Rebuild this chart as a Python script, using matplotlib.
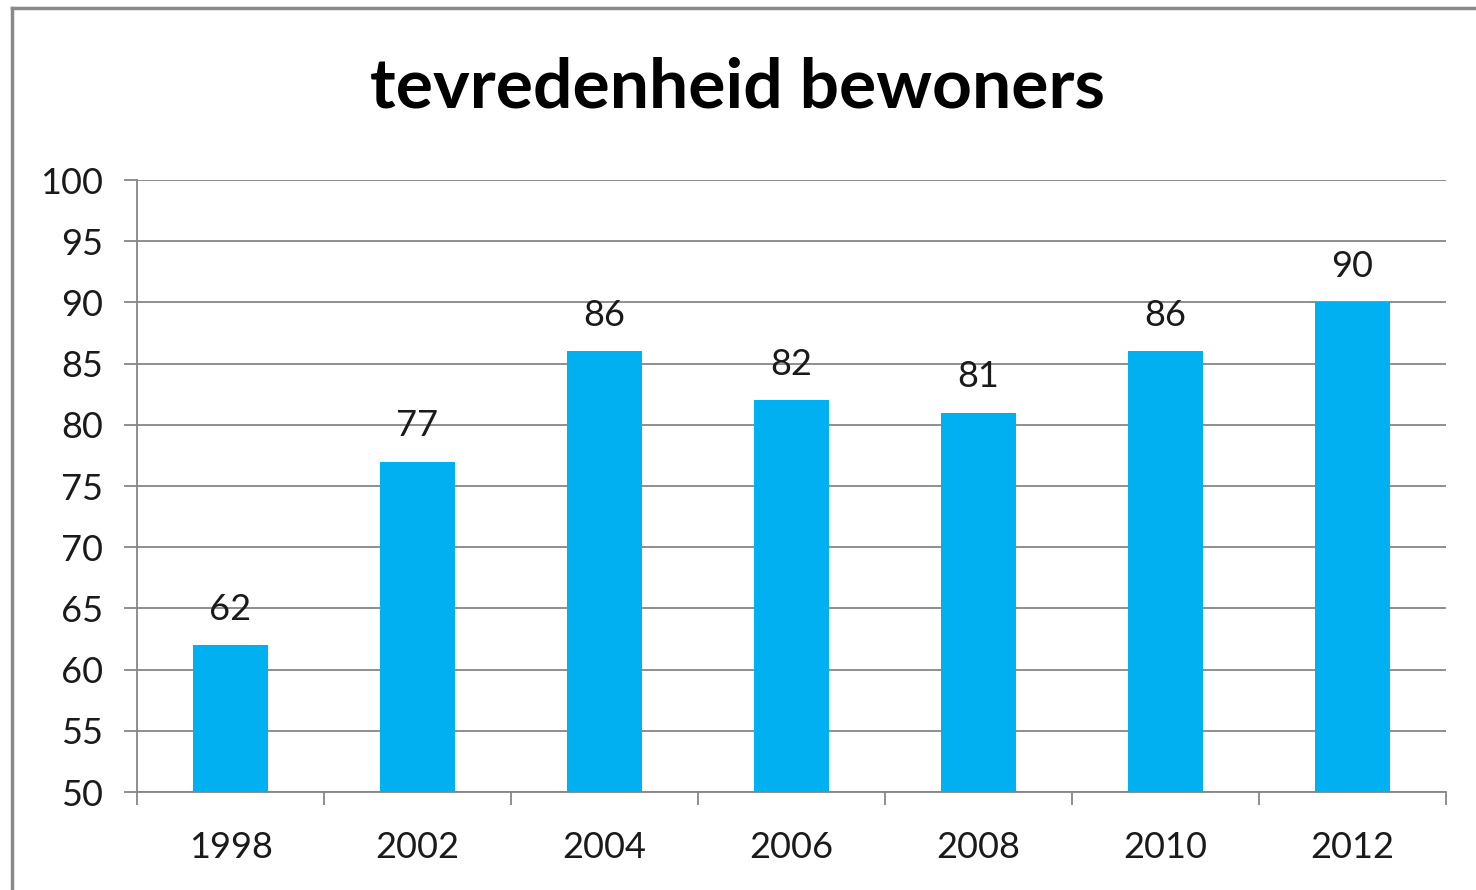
import matplotlib
matplotlib.use("Agg")
import matplotlib.pyplot as plt
from matplotlib.lines import Line2D
import numpy as np

years = ["1998", "2002", "2004", "2006", "2008", "2010", "2012"]
values = [62, 77, 86, 82, 81, 86, 90]
title = "tevredenheid bewoners"

plt.rcParams['font.family'] = ['Lato', 'DejaVu Sans']

W, H = 1476, 890
fig = plt.figure(figsize=(W / 100, H / 100), dpi=100)
ax = fig.add_axes([137 / W, 1 - 792 / H, (1446 - 137) / W, (792 - 180) / H])

gray = "#868686"
x = np.arange(len(years))
bars = ax.bar(x, values, width=0.4, color="#00B0F0", zorder=3)

ax.set_xlim(-0.5, len(years) - 0.5)
ax.set_ylim(50, 100)
ax.set_yticks(np.arange(50, 101, 5))
ax.yaxis.grid(True, color=gray, linewidth=1.3, zorder=0)
ax.set_axisbelow(True)

ax.set_xticks(x)
ax.set_xticklabels(years, fontsize=26, color="#1a1a1a")
ax.set_xticks(np.arange(-0.5, len(years), 1), minor=True)
ax.tick_params(axis='x', which='major', length=0, pad=28)
ax.tick_params(axis='x', which='minor', length=9.5, width=1.3, color=gray, direction='out')
ax.tick_params(axis='y', length=9.5, width=1.3, color=gray, labelsize=26, labelcolor="#1a1a1a", pad=15)

for s in ['top', 'right']:
    ax.spines[s].set_visible(False)
for s in ['left', 'bottom']:
    ax.spines[s].set_color(gray)
    ax.spines[s].set_linewidth(1.3)

for xi, v in zip(x, values):
    ax.annotate(str(v), (xi, v), xytext=(0, 14), textcoords='offset points',
                ha='center', va='bottom', fontsize=26, color="#1a1a1a")

fig.text(0.5, 1 - 88 / H, title, ha='center', va='center', fontsize=50,
         fontweight='bold', color='black')

# outer chart border (left and top visible)
fig.add_artist(Line2D([11.5 / W, 11.5 / W], [0, 1 - 8 / H], transform=fig.transFigure,
                      color="#8a8a8a", linewidth=2.5))
fig.add_artist(Line2D([11.5 / W, 1], [1 - 8 / H, 1 - 8 / H], transform=fig.transFigure,
                      color="#8a8a8a", linewidth=2.5))

fig.savefig("out.png", dpi=100)
